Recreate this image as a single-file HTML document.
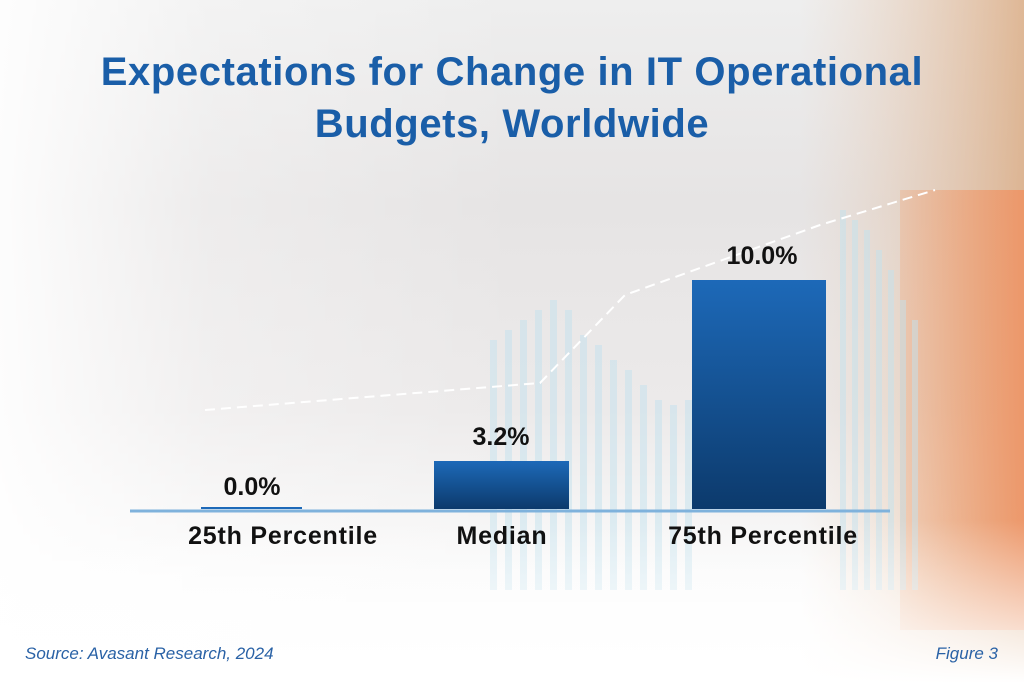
<!DOCTYPE html>
<html><head><meta charset="utf-8"><style>
body{margin:0;width:1024px;height:683px;overflow:hidden;font-family:"Liberation Sans",sans-serif;}
.t{position:absolute;font-weight:bold;white-space:nowrap;}
</style></head><body>
<div style="position:relative;width:1024px;height:683px;background:linear-gradient(180deg,#eeeeee 0%,#e6e4e4 30%,#eceaea 60%,#fbfbfb 85%,#ffffff 100%);">
<svg width="1024" height="683" style="position:absolute;left:0;top:0">
<defs>
<linearGradient id="bg" x1="0" x2="1"><stop offset="0" stop-color="#fff" stop-opacity="0.9"/><stop offset="0.4" stop-color="#fff" stop-opacity="0.3"/><stop offset="1" stop-color="#fff" stop-opacity="0"/></linearGradient>
<linearGradient id="bar" x1="0" y1="0" x2="0" y2="1"><stop offset="0" stop-color="#1d69b8"/><stop offset="1" stop-color="#0c3a6c"/></linearGradient>
<linearGradient id="or" x1="0" y1="0" x2="1" y2="0"><stop offset="0" stop-color="#f0a070" stop-opacity="0.3"/><stop offset="1" stop-color="#f09060" stop-opacity="0.8"/></linearGradient>
<linearGradient id="fade" x1="0" y1="0" x2="0" y2="1"><stop offset="0" stop-color="#fff" stop-opacity="0"/><stop offset="1" stop-color="#fff" stop-opacity="1"/></linearGradient>
<linearGradient id="top" x1="0" y1="0" x2="1" y2="0"><stop offset="0" stop-color="#e8c4a8" stop-opacity="0"/><stop offset="1" stop-color="#d8a070" stop-opacity="0.7"/></linearGradient>
</defs>
<rect x="800" y="0" width="224" height="683" fill="url(#top)"/>
<rect x="900" y="190" width="124" height="440" fill="url(#or)"/>
<g fill="#c4e2ee" opacity="0.5">
<rect x="490" y="340" width="7" height="250"/><rect x="505" y="330" width="7" height="260"/>
<rect x="520" y="320" width="7" height="270"/><rect x="535" y="310" width="7" height="280"/>
<rect x="550" y="300" width="7" height="290"/><rect x="565" y="310" width="7" height="280"/>
<rect x="580" y="335" width="7" height="255"/><rect x="595" y="345" width="7" height="245"/>
<rect x="610" y="360" width="7" height="230"/><rect x="625" y="370" width="7" height="220"/>
<rect x="640" y="385" width="7" height="205"/><rect x="655" y="400" width="7" height="190"/>
<rect x="670" y="405" width="7" height="185"/><rect x="685" y="400" width="7" height="190"/>
<rect x="840" y="210" width="6" height="380"/><rect x="852" y="220" width="6" height="370"/>
<rect x="864" y="230" width="6" height="360"/><rect x="876" y="250" width="6" height="340"/>
<rect x="888" y="270" width="6" height="320"/><rect x="900" y="300" width="6" height="290"/>
<rect x="912" y="320" width="6" height="270"/>
</g>
<rect x="0" y="0" width="520" height="683" fill="url(#bg)"/>
<rect x="0" y="520" width="1024" height="163" fill="url(#fade)"/>
<polyline points="205,410 540,383 625,295 820,225 935,190" fill="none" stroke="#fff" stroke-width="2" stroke-dasharray="10,6"/>
<line x1="130" y1="511" x2="890" y2="511" stroke="#7fb2dc" stroke-width="3"/>
<rect x="201" y="507" width="101" height="2" fill="#1d69b8"/>
<rect x="434" y="461" width="135" height="48" fill="url(#bar)"/>
<rect x="692" y="280" width="134" height="229" fill="url(#bar)"/>
</svg>
<div class="t" style="left:0;width:1024px;text-align:center;top:46px;font-size:40px;line-height:52px;letter-spacing:0.6px;color:#1a5ea8;">Expectations for Change in IT Operational<br>Budgets, Worldwide</div>
<div class="t" style="left:202px;width:100px;text-align:center;top:473px;font-size:25px;color:#111">0.0%</div>
<div class="t" style="left:451px;width:100px;text-align:center;top:423px;font-size:25px;color:#111">3.2%</div>
<div class="t" style="left:712px;width:100px;text-align:center;top:242px;font-size:25px;color:#111">10.0%</div>
<div class="t" style="left:153px;width:260px;text-align:center;top:522px;font-size:25px;letter-spacing:0.8px;color:#111">25th Percentile</div>
<div class="t" style="left:372px;width:260px;text-align:center;top:522px;font-size:25px;letter-spacing:0.8px;color:#111">Median</div>
<div class="t" style="left:633px;width:260px;text-align:center;top:522px;font-size:25px;letter-spacing:0.8px;color:#111">75th Percentile</div>
<div style="position:absolute;left:25px;top:644px;font-size:17px;font-style:italic;color:#2a62a6;">Source: Avasant Research, 2024</div>
<div style="position:absolute;right:26px;top:644px;font-size:17px;font-style:italic;color:#2a62a6;">Figure 3</div>
</div>
</body></html>
